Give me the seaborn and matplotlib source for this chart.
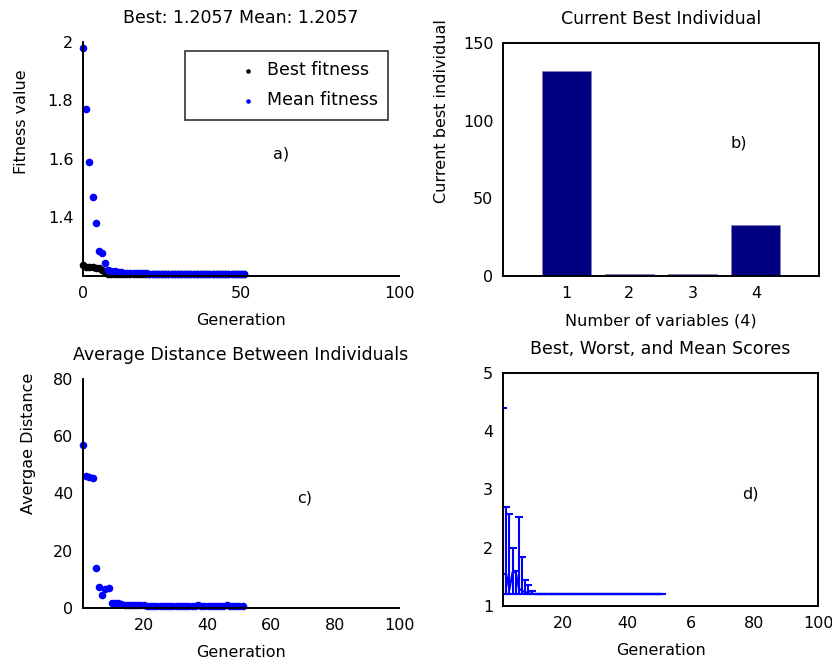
import numpy as np
import pandas as pd
import matplotlib
matplotlib.use("Agg")
import matplotlib.pyplot as plt
import seaborn as sns

# panel a: best / mean fitness per generation
gen_a = list(range(0, 52))
best_fit = [1.238, 1.232, 1.231, 1.230, 1.229, 1.228, 1.222, 1.212,
            1.2057, 1.2057, 1.2057, 1.2057, 1.2057, 1.2057, 1.2057, 1.2057, 1.2057, 1.2057, 1.2057,
            1.2057, 1.2057, 1.2057, 1.2057, 1.2057, 1.2057, 1.2057, 1.2057, 1.2057, 1.2057, 1.2057,
            1.2057, 1.2057, 1.2057, 1.2057, 1.2057, 1.2057, 1.2057, 1.2057, 1.2057, 1.2057, 1.2057,
            1.2057, 1.2057, 1.2057, 1.2057, 1.2057, 1.2057, 1.2057, 1.2057, 1.2057, 1.2057, 1.2057]
mean_fit = [1.98, 1.77, 1.59, 1.47, 1.38, 1.285, 1.28, 1.245,
            1.222, 1.218, 1.216, 1.215, 1.214,
            1.211, 1.210, 1.210, 1.210, 1.209, 1.209, 1.209, 1.209, 1.208, 1.208,
            1.208, 1.208, 1.208, 1.207, 1.207, 1.207, 1.207, 1.207, 1.207, 1.207,
            1.207, 1.206, 1.206, 1.206, 1.206, 1.206, 1.206, 1.206, 1.206, 1.206,
            1.206, 1.206, 1.206, 1.206, 1.206, 1.206, 1.206, 1.206, 1.206]

# panel b: current best individual
variables = [1, 2, 3, 4]
best_individual = [132, 1.2, 1.2, 33]

# panel c: average distance between individuals
gen_c = list(range(1, 52))
avg_dist = [57.0, 46.2, 45.8, 45.5, 14.0, 7.2, 4.5, 6.8, 7.0, 1.8, 1.8, 1.7, 1.5,
            1.2, 1.1, 1.0, 1.0, 0.9, 0.9, 0.9, 0.8, 0.8, 0.8,
            0.8, 0.8, 0.8, 0.8, 0.8, 0.8, 0.8, 0.8, 0.8, 0.8,
            0.8, 0.8, 0.8, 0.9, 0.8, 0.8, 0.8, 0.8, 0.8, 0.8,
            0.8, 0.8, 0.9, 0.8, 0.8, 0.8, 0.7, 0.6]

# panel d: best, worst and mean scores
gen_d = list(range(1, 52))
worst_score = [4.4, 2.7, 2.58, 2.0, 1.6, 2.53, 1.84, 1.45, 1.36, 1.25,
               1.2057, 1.2057, 1.2057, 1.2057, 1.2057, 1.2057, 1.2057, 1.2057, 1.2057, 1.2057, 1.2057,
               1.2057, 1.2057, 1.2057, 1.2057, 1.2057, 1.2057, 1.2057, 1.2057, 1.2057, 1.2057,
               1.2057, 1.2057, 1.2057, 1.2057, 1.2057, 1.2057, 1.2057, 1.2057, 1.2057, 1.2057,
               1.2057, 1.2057, 1.2057, 1.2057, 1.2057, 1.2057, 1.2057, 1.2057, 1.2057, 1.2057]
mean_score = [1.55, 1.55, 1.28, 1.58, 1.58, 1.30, 1.26, 1.24, 1.22, 1.21,
              1.2057, 1.2057, 1.2057, 1.2057, 1.2057, 1.2057, 1.2057, 1.2057, 1.2057, 1.2057, 1.2057,
              1.2057, 1.2057, 1.2057, 1.2057, 1.2057, 1.2057, 1.2057, 1.2057, 1.2057, 1.2057,
              1.2057, 1.2057, 1.2057, 1.2057, 1.2057, 1.2057, 1.2057, 1.2057, 1.2057, 1.2057,
              1.2057, 1.2057, 1.2057, 1.2057, 1.2057, 1.2057, 1.2057, 1.2057, 1.2057, 1.2057]
best_score = [1.2057, 1.2057, 1.2057, 1.2057, 1.2057, 1.2057, 1.2057, 1.2057, 1.2057, 1.2057,
              1.2057, 1.2057, 1.2057, 1.2057, 1.2057, 1.2057, 1.2057, 1.2057, 1.2057, 1.2057, 1.2057,
              1.2057, 1.2057, 1.2057, 1.2057, 1.2057, 1.2057, 1.2057, 1.2057, 1.2057, 1.2057,
              1.2057, 1.2057, 1.2057, 1.2057, 1.2057, 1.2057, 1.2057, 1.2057, 1.2057, 1.2057,
              1.2057, 1.2057, 1.2057, 1.2057, 1.2057, 1.2057, 1.2057, 1.2057, 1.2057, 1.2057]

sns.set_style("white")
plt.rcParams['font.family'] = ['DejaVu Sans']
plt.rcParams['font.size'] = 11.5
plt.rcParams['axes.titlesize'] = 12.5
plt.rcParams['axes.labelsize'] = 11.5
plt.rcParams['text.color'] = 'black'
plt.rcParams['axes.labelcolor'] = 'black'
plt.rcParams['axes.edgecolor'] = 'black'
plt.rcParams['axes.linewidth'] = 1.4

fig = plt.figure(figsize=(8.32, 6.63), dpi=100)
ax_a = fig.add_axes([0.0998, 0.5837, 0.3798, 0.353])
ax_b = fig.add_axes([0.6046, 0.5837, 0.3798, 0.3514])
ax_c = fig.add_axes([0.0998, 0.0830, 0.3798, 0.3454])
ax_d = fig.add_axes([0.6046, 0.0860, 0.3786, 0.3514])

for ax in [ax_a, ax_b, ax_c, ax_d]:
    ax.tick_params(direction='in', length=3, width=1, colors='black', labelsize=11.5, pad=7)

# a) fitness
df_a = pd.DataFrame({'Generation': gen_a, 'best': best_fit, 'mean': mean_fit})
sns.scatterplot(data=df_a, x='Generation', y='best', color='black', s=30, marker='o',
                linewidth=0, label='Best fitness', ax=ax_a, clip_on=False)
sns.scatterplot(data=df_a, x='Generation', y='mean', color='blue', s=30, marker='o',
                linewidth=0, label='Mean fitness', ax=ax_a, clip_on=False)
ax_a.set_xlim(0, 100)
ax_a.set_ylim(1.2, 2.0)
ax_a.set_xticks([0, 50, 100])
ax_a.set_yticks([1.4, 1.6, 1.8, 2.0])
ax_a.set_yticklabels(['1.4', '1.6', '1.8', '2'])
ax_a.spines['top'].set_visible(False)
ax_a.spines['right'].set_visible(False)
ax_a.set_title('Best: 1.2057 Mean: 1.2057', pad=14)
ax_a.set_xlabel('Generation', labelpad=9)
ax_a.set_ylabel('Fitness value')
ax_a.yaxis.set_label_coords(-0.17, 0.66)
leg = ax_a.legend(loc='upper right', bbox_to_anchor=(0.965, 0.962), frameon=True,
                  fancybox=False, edgecolor='black', markerscale=0.6, handletextpad=-2.0,
                  borderpad=0.6, borderaxespad=0, labelspacing=0.7, handlelength=6.1,
                  fontsize=12.5)
leg.get_frame().set_linewidth(1.2)
ax_a.text(60, 1.6, 'a)', fontsize=11.5)

# b) current best individual
df_b = pd.DataFrame({'var': variables, 'value': best_individual})
sns.barplot(data=df_b, x='var', y='value', color='#000080', saturation=1, width=0.78,
            native_scale=True, ax=ax_b, edgecolor='#8080c0', linewidth=0.6)
ax_b.set_xlim(0, 5)
ax_b.set_ylim(0, 150)
ax_b.set_xticks(variables)
ax_b.set_yticks([0, 50, 100, 150])
ax_b.set_title('Current Best Individual', pad=14)
ax_b.set_xlabel('Number of variables (4)', labelpad=9)
ax_b.set_ylabel('Current best individual')
ax_b.yaxis.set_label_coords(-0.17, 0.71)
ax_b.text(3.6, 83, 'b)', fontsize=11.5)

# c) average distance
df_c = pd.DataFrame({'Generation': gen_c, 'dist': avg_dist})
sns.scatterplot(data=df_c, x='Generation', y='dist', color='blue', s=30, marker='o',
                linewidth=0, ax=ax_c, clip_on=False)
ax_c.set_xlim(1, 100)
ax_c.set_ylim(0, 80)
ax_c.set_xticks([20, 40, 60, 80, 100])
ax_c.set_yticks([0, 20, 40, 60, 80])
ax_c.spines['top'].set_visible(False)
ax_c.spines['right'].set_visible(False)
ax_c.set_title('Average Distance Between Individuals', pad=14)
ax_c.set_xlabel('Generation', labelpad=9)
ax_c.set_ylabel('Avergae Distance')
ax_c.yaxis.set_label_coords(-0.15, 0.72)
ax_c.text(68, 37, 'c)', fontsize=11.5)

# d) best, worst and mean scores
mean_arr = np.array(mean_score)
err_lo = mean_arr - np.array(best_score)
err_hi = np.array(worst_score) - mean_arr
sns.lineplot(x=gen_d, y=mean_score, color='blue', linewidth=1.5, ax=ax_d)
ax_d.errorbar(gen_d, mean_score, yerr=[err_lo, err_hi], fmt='none', ecolor='blue',
              elinewidth=1.5, capsize=3, capthick=1.5)
ax_d.set_xlim(1, 100)
ax_d.set_ylim(1, 5)
ax_d.set_xticks([20, 40, 60, 80, 100])
ax_d.set_xticklabels(['20', '40', '6', '80', '100'])
ax_d.set_yticks([1, 2, 3, 4, 5])
ax_d.set_title('Best, Worst, and Mean Scores', pad=14)
ax_d.set_xlabel('Generation', labelpad=9)
ax_d.text(76, 2.85, 'd)', fontsize=11.5)

fig.savefig('out.png', dpi=100)
